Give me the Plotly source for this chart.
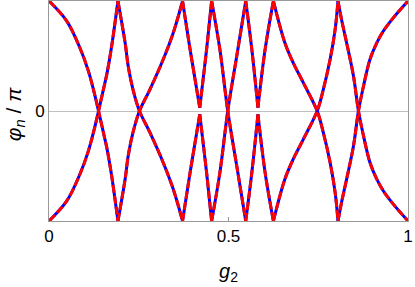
import plotly.graph_objects as go

# g2 values and phase phi_n/pi of one branch (the other branch is its negative)
g2 = [0, 0.049, 0.086, 0.110, 0.128, 0.138, 0.156, 0.162, 0.175, 0.192,
      0.212, 0.221, 0.234, 0.252, 0.281, 0.318, 0.346, 0.372,
      0.393, 0.420, 0.439, 0.453,
      0.476, 0.498, 0.523, 0.548,
      0.565, 0.582, 0.602, 0.625,
      0.657, 0.680, 0.708, 0.747, 0.764, 0.783, 0.797, 0.805,
      0.815, 0.829, 0.848, 0.862, 0.876, 0.894, 0.913, 0.931, 0.959, 1.0]
phi = [1, 0.82, 0.575, 0.36, 0.14, 0, -0.26, -0.35, -0.6, -1,
       -0.62, -0.40, -0.195, 0, 0.195, 0.468, 0.71, 1,
       0.56, 0.03, 0.56, 1,
       0.56, 0, -0.50, -1,
       -0.56, -0.03, -0.56, -1,
       -0.62, -0.44, -0.26, 0, 0.195, 0.468, 0.74, 1,
       0.83, 0.62, 0.32, 0, -0.225, -0.468, -0.62, -0.725, -0.847, -1]
phi_neg = [-v for v in phi]

x_ticks = [0, 0.5, 1]
x_ticktext = ["0", "0.5", "1"]
y_ticks = [0]
y_ticktext = ["0"]


def split_at_turns(xs, ys):
    """Break the branch into monotonic pieces (separated by None) so that
    each piece is smoothed on its own and the cusps stay sharp."""
    ox, oy = [xs[0]], [ys[0]]
    for i in range(1, len(xs)):
        ox.append(xs[i]); oy.append(ys[i])
        if 0 < i < len(xs) - 1 and (ys[i] - ys[i - 1]) * (ys[i + 1] - ys[i]) < 0:
            ox += [None, xs[i]]; oy += [None, ys[i]]
    return ox, oy


fig = go.Figure()
branches = [split_at_turns(g2, phi), split_at_turns(g2, phi_neg)]
for bx, by in branches:
    fig.add_trace(go.Scatter(x=bx, y=by, mode="lines", connectgaps=False,
                             line=dict(color="#0000ff", width=3, shape="spline", smoothing=1.0),
                             showlegend=False, hoverinfo="skip"))
for bx, by in branches:
    fig.add_trace(go.Scatter(x=bx, y=by, mode="lines", connectgaps=False,
                             line=dict(color="#ff0000", width=3, dash="8px,3px",
                                       shape="spline", smoothing=1.0),
                             showlegend=False, hoverinfo="skip"))

font_family = "Liberation Sans, Arial, sans-serif"
fig.update_layout(
    width=415, height=287,
    margin=dict(l=49, r=7, t=1, b=66, autoexpand=False),
    plot_bgcolor="white", paper_bgcolor="white",
    font=dict(family=font_family, size=17, color="black"),
    xaxis=dict(range=[0, 1], tickvals=x_ticks, ticktext=x_ticktext, automargin=False,
               showgrid=False, zeroline=False, showline=True, mirror=True,
               linecolor="#999999", linewidth=1, ticks="inside", ticklen=4,
               tickcolor="#999999", tickfont=dict(size=17)),
    yaxis=dict(range=[-1, 1], tickvals=y_ticks, ticktext=y_ticktext, automargin=False,
               showgrid=False, zeroline=True, zerolinecolor="#c0c0c0",
               zerolinewidth=1, showline=True, mirror=True,
               linecolor="#999999", linewidth=1, ticks="", tickfont=dict(size=17)),
    annotations=[
        dict(text="<i>g</i><sub>2</sub>", xref="paper", yref="paper",
             x=0.5, y=-0.235, xanchor="center", yanchor="middle",
             showarrow=False, font=dict(size=20)),
        dict(text="<i>φ</i><sub><i>n</i></sub> / <i>π</i>", xref="paper", yref="paper",
             x=-0.095, y=0.485, xanchor="center", yanchor="middle", textangle=-90,
             showarrow=False, font=dict(size=21)),
    ],
)
fig.write_html("out.html", config={"displayModeBar": False, "staticPlot": True},
               post_script="document.body.style.margin='0';")
